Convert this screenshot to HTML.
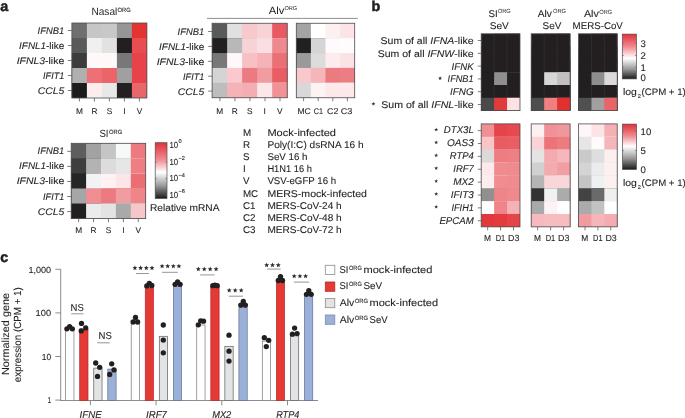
<!DOCTYPE html>
<html><head><meta charset="utf-8"><style>
html,body{margin:0;padding:0;background:#fff;}
svg{display:block;will-change:transform;text-rendering:geometricPrecision;}
text{stroke:#231f20;stroke-width:0.1px;font-family:"Liberation Sans", sans-serif;fill:#231f20;}
</style></head><body>
<svg width="685" height="418" viewBox="0 0 685 418">
<rect width="685" height="418" fill="#fff"/>
<text x="0.30" y="10.80" font-size="14.3" font-weight="bold" style="stroke-width:0.5px">a</text>
<rect x="71.90" y="23.00" width="75.00" height="75.00" fill="#6e706f"/>
<rect x="86.90" y="23.00" width="60.00" height="75.00" fill="#c6c6c6"/>
<rect x="101.90" y="23.00" width="45.00" height="75.00" fill="#c8c8c8"/>
<rect x="116.90" y="23.00" width="30.00" height="75.00" fill="#969696"/>
<rect x="131.90" y="23.00" width="15.00" height="75.00" fill="#e33432"/>
<rect x="71.90" y="38.00" width="75.00" height="60.00" fill="#5a5a5a"/>
<rect x="86.90" y="38.00" width="60.00" height="60.00" fill="#f0f0f0"/>
<rect x="101.90" y="38.00" width="45.00" height="60.00" fill="#e2e2e2"/>
<rect x="116.90" y="38.00" width="30.00" height="60.00" fill="#231f20"/>
<rect x="131.90" y="38.00" width="15.00" height="60.00" fill="#e84d50"/>
<rect x="71.90" y="53.00" width="75.00" height="45.00" fill="#3c3c3c"/>
<rect x="86.90" y="53.00" width="60.00" height="45.00" fill="#fff8f8"/>
<rect x="101.90" y="53.00" width="45.00" height="45.00" fill="#fff8f8"/>
<rect x="116.90" y="53.00" width="30.00" height="45.00" fill="#787878"/>
<rect x="131.90" y="53.00" width="15.00" height="45.00" fill="#e8434a"/>
<rect x="71.90" y="68.00" width="75.00" height="30.00" fill="#b0b0b0"/>
<rect x="86.90" y="68.00" width="60.00" height="30.00" fill="#ec7075"/>
<rect x="101.90" y="68.00" width="45.00" height="30.00" fill="#ea6468"/>
<rect x="116.90" y="68.00" width="30.00" height="30.00" fill="#a0a0a0"/>
<rect x="131.90" y="68.00" width="15.00" height="30.00" fill="#e8434a"/>
<rect x="71.90" y="83.00" width="75.00" height="15.00" fill="#1c1c1c"/>
<rect x="86.90" y="83.00" width="60.00" height="15.00" fill="#fdeeee"/>
<rect x="101.90" y="83.00" width="45.00" height="15.00" fill="#e8e8e8"/>
<rect x="116.90" y="83.00" width="30.00" height="15.00" fill="#242021"/>
<rect x="131.90" y="83.00" width="15.00" height="15.00" fill="#e8676a"/>
<rect x="71.90" y="23.00" width="75.00" height="75.00" fill="none" stroke="#4d4d4f" stroke-width="0.8"/>
<line x1="67.90" y1="30.50" x2="71.90" y2="30.50" stroke="#5a5b5e" stroke-width="0.8"/>
<line x1="67.90" y1="45.50" x2="71.90" y2="45.50" stroke="#5a5b5e" stroke-width="0.8"/>
<line x1="67.90" y1="60.50" x2="71.90" y2="60.50" stroke="#5a5b5e" stroke-width="0.8"/>
<line x1="67.90" y1="75.50" x2="71.90" y2="75.50" stroke="#5a5b5e" stroke-width="0.8"/>
<line x1="67.90" y1="90.50" x2="71.90" y2="90.50" stroke="#5a5b5e" stroke-width="0.8"/>
<line x1="79.40" y1="98.00" x2="79.40" y2="101.50" stroke="#5a5b5e" stroke-width="0.8"/>
<line x1="94.40" y1="98.00" x2="94.40" y2="101.50" stroke="#5a5b5e" stroke-width="0.8"/>
<line x1="109.40" y1="98.00" x2="109.40" y2="101.50" stroke="#5a5b5e" stroke-width="0.8"/>
<line x1="124.40" y1="98.00" x2="124.40" y2="101.50" stroke="#5a5b5e" stroke-width="0.8"/>
<line x1="139.40" y1="98.00" x2="139.40" y2="101.50" stroke="#5a5b5e" stroke-width="0.8"/>
<text x="37.60" y="34.00" font-size="9.6" textLength="26.60" lengthAdjust="spacingAndGlyphs"><tspan font-style="italic">IFNB1</tspan></text>
<text x="19.10" y="49.00" font-size="9.6" textLength="45.10" lengthAdjust="spacingAndGlyphs"><tspan font-style="italic">IFNL1</tspan>-like</text>
<text x="16.70" y="64.00" font-size="9.6" textLength="47.50" lengthAdjust="spacingAndGlyphs"><tspan font-style="italic">IFNL3</tspan>-like</text>
<text x="43.10" y="79.00" font-size="9.6" textLength="21.10" lengthAdjust="spacingAndGlyphs"><tspan font-style="italic">IFIT1</tspan></text>
<text x="37.80" y="94.00" font-size="9.6" textLength="26.40" lengthAdjust="spacingAndGlyphs"><tspan font-style="italic">CCL5</tspan></text>
<text x="79.40" y="114.00" font-size="8.3" text-anchor="middle">M</text>
<text x="94.40" y="114.00" font-size="8.3" text-anchor="middle">R</text>
<text x="109.40" y="114.00" font-size="8.3" text-anchor="middle">S</text>
<text x="124.40" y="114.00" font-size="8.3" text-anchor="middle">I</text>
<text x="139.40" y="114.00" font-size="8.3" text-anchor="middle">V</text>
<text x="91.40" y="14.60" font-size="10.5" textLength="25.90" lengthAdjust="spacingAndGlyphs" style="stroke-width:0">Nasal</text>
<text x="117.50" y="11.50" font-size="6.2" textLength="13.20" lengthAdjust="spacingAndGlyphs" style="stroke-width:0.1px">ORG</text>
<rect x="212.10" y="23.25" width="75.10" height="74.50" fill="#595b5a"/>
<rect x="227.12" y="23.25" width="60.08" height="74.50" fill="#dfe0df"/>
<rect x="242.14" y="23.25" width="45.06" height="74.50" fill="#f7c8cc"/>
<rect x="257.16" y="23.25" width="30.04" height="74.50" fill="#f8d3d6"/>
<rect x="272.18" y="23.25" width="15.02" height="74.50" fill="#e85a62"/>
<rect x="212.10" y="38.15" width="75.10" height="59.60" fill="#231f20"/>
<rect x="227.12" y="38.15" width="60.08" height="59.60" fill="#b8b8b8"/>
<rect x="242.14" y="38.15" width="45.06" height="59.60" fill="#f7d3d8"/>
<rect x="257.16" y="38.15" width="30.04" height="59.60" fill="#f9dfe2"/>
<rect x="272.18" y="38.15" width="15.02" height="59.60" fill="#ee8a8f"/>
<rect x="212.10" y="53.05" width="75.10" height="44.70" fill="#787878"/>
<rect x="227.12" y="53.05" width="60.08" height="44.70" fill="#fff8f9"/>
<rect x="242.14" y="53.05" width="45.06" height="44.70" fill="#f6c0c4"/>
<rect x="257.16" y="53.05" width="30.04" height="44.70" fill="#f5b3b8"/>
<rect x="272.18" y="53.05" width="15.02" height="44.70" fill="#ea7075"/>
<rect x="212.10" y="67.95" width="75.10" height="29.80" fill="#d4d4d4"/>
<rect x="227.12" y="67.95" width="60.08" height="29.80" fill="#f9c9cd"/>
<rect x="242.14" y="67.95" width="45.06" height="29.80" fill="#ec7a80"/>
<rect x="257.16" y="67.95" width="30.04" height="29.80" fill="#f19ca1"/>
<rect x="272.18" y="67.95" width="15.02" height="29.80" fill="#e95d64"/>
<rect x="212.10" y="82.85" width="75.10" height="14.90" fill="#bdbdbd"/>
<rect x="227.12" y="82.85" width="60.08" height="14.90" fill="#f5b3b7"/>
<rect x="242.14" y="82.85" width="45.06" height="14.90" fill="#f4aeb3"/>
<rect x="257.16" y="82.85" width="30.04" height="14.90" fill="#fbe6e8"/>
<rect x="272.18" y="82.85" width="15.02" height="14.90" fill="#f09297"/>
<rect x="212.10" y="23.25" width="75.10" height="74.50" fill="none" stroke="#4d4d4f" stroke-width="0.8"/>
<line x1="208.10" y1="31.50" x2="212.10" y2="31.50" stroke="#5a5b5e" stroke-width="0.8"/>
<line x1="208.10" y1="46.40" x2="212.10" y2="46.40" stroke="#5a5b5e" stroke-width="0.8"/>
<line x1="208.10" y1="61.30" x2="212.10" y2="61.30" stroke="#5a5b5e" stroke-width="0.8"/>
<line x1="208.10" y1="76.20" x2="212.10" y2="76.20" stroke="#5a5b5e" stroke-width="0.8"/>
<line x1="208.10" y1="91.10" x2="212.10" y2="91.10" stroke="#5a5b5e" stroke-width="0.8"/>
<line x1="219.91" y1="97.75" x2="219.91" y2="101.25" stroke="#5a5b5e" stroke-width="0.8"/>
<line x1="234.93" y1="97.75" x2="234.93" y2="101.25" stroke="#5a5b5e" stroke-width="0.8"/>
<line x1="249.95" y1="97.75" x2="249.95" y2="101.25" stroke="#5a5b5e" stroke-width="0.8"/>
<line x1="264.97" y1="97.75" x2="264.97" y2="101.25" stroke="#5a5b5e" stroke-width="0.8"/>
<line x1="279.99" y1="97.75" x2="279.99" y2="101.25" stroke="#5a5b5e" stroke-width="0.8"/>
<rect x="296.30" y="23.25" width="58.40" height="74.50" fill="#a3a3a3"/>
<rect x="310.90" y="23.25" width="43.80" height="74.50" fill="#ffffff"/>
<rect x="325.50" y="23.25" width="29.20" height="74.50" fill="#fdf0f1"/>
<rect x="340.10" y="23.25" width="14.60" height="74.50" fill="#fce4e6"/>
<rect x="296.30" y="38.15" width="58.40" height="59.60" fill="#231f20"/>
<rect x="310.90" y="38.15" width="43.80" height="59.60" fill="#d5d5d5"/>
<rect x="325.50" y="38.15" width="29.20" height="59.60" fill="#fffafb"/>
<rect x="340.10" y="38.15" width="14.60" height="59.60" fill="#fffcfc"/>
<rect x="296.30" y="53.05" width="58.40" height="44.70" fill="#9a9a9a"/>
<rect x="310.90" y="53.05" width="43.80" height="44.70" fill="#dcdcdc"/>
<rect x="325.50" y="53.05" width="29.20" height="44.70" fill="#fdeced"/>
<rect x="340.10" y="53.05" width="14.60" height="44.70" fill="#fbe2e4"/>
<rect x="296.30" y="67.95" width="58.40" height="29.80" fill="#f8c8cc"/>
<rect x="310.90" y="67.95" width="43.80" height="29.80" fill="#f5b5b9"/>
<rect x="325.50" y="67.95" width="29.20" height="29.80" fill="#ec7b80"/>
<rect x="340.10" y="67.95" width="14.60" height="29.80" fill="#ec7e83"/>
<rect x="296.30" y="82.85" width="58.40" height="14.90" fill="#d8d8d8"/>
<rect x="310.90" y="82.85" width="43.80" height="14.90" fill="#fef3f4"/>
<rect x="325.50" y="82.85" width="29.20" height="14.90" fill="#fde8ea"/>
<rect x="340.10" y="82.85" width="14.60" height="14.90" fill="#fde8ea"/>
<rect x="296.30" y="23.25" width="58.40" height="74.50" fill="none" stroke="#4d4d4f" stroke-width="0.8"/>
<line x1="303.60" y1="97.75" x2="303.60" y2="101.25" stroke="#5a5b5e" stroke-width="0.8"/>
<line x1="318.20" y1="97.75" x2="318.20" y2="101.25" stroke="#5a5b5e" stroke-width="0.8"/>
<line x1="332.80" y1="97.75" x2="332.80" y2="101.25" stroke="#5a5b5e" stroke-width="0.8"/>
<line x1="347.40" y1="97.75" x2="347.40" y2="101.25" stroke="#5a5b5e" stroke-width="0.8"/>
<text x="177.60" y="35.00" font-size="9.6" textLength="26.60" lengthAdjust="spacingAndGlyphs"><tspan font-style="italic">IFNB1</tspan></text>
<text x="159.10" y="49.90" font-size="9.6" textLength="45.10" lengthAdjust="spacingAndGlyphs"><tspan font-style="italic">IFNL1</tspan>-like</text>
<text x="156.70" y="64.80" font-size="9.6" textLength="47.50" lengthAdjust="spacingAndGlyphs"><tspan font-style="italic">IFNL3</tspan>-like</text>
<text x="183.10" y="79.70" font-size="9.6" textLength="21.10" lengthAdjust="spacingAndGlyphs"><tspan font-style="italic">IFIT1</tspan></text>
<text x="177.80" y="94.60" font-size="9.6" textLength="26.40" lengthAdjust="spacingAndGlyphs"><tspan font-style="italic">CCL5</tspan></text>
<text x="219.61" y="114.00" font-size="8.3" text-anchor="middle">M</text>
<text x="234.63" y="114.00" font-size="8.3" text-anchor="middle">R</text>
<text x="249.65" y="114.00" font-size="8.3" text-anchor="middle">S</text>
<text x="264.67" y="114.00" font-size="8.3" text-anchor="middle">I</text>
<text x="279.69" y="114.00" font-size="8.3" text-anchor="middle">V</text>
<text x="297.40" y="114.20" font-size="8.3" textLength="13.30" lengthAdjust="spacingAndGlyphs">MC</text>
<text x="313.70" y="114.20" font-size="8.3" textLength="9.30" lengthAdjust="spacingAndGlyphs">C1</text>
<text x="327.00" y="114.20" font-size="8.3" textLength="11.30" lengthAdjust="spacingAndGlyphs">C2</text>
<text x="340.80" y="114.20" font-size="8.3" textLength="11.60" lengthAdjust="spacingAndGlyphs">C3</text>
<line x1="207.00" y1="18.40" x2="357.70" y2="18.40" stroke="#808285" stroke-width="0.9"/>
<text x="268.80" y="13.90" font-size="10.5" textLength="15.60" lengthAdjust="spacingAndGlyphs" style="stroke-width:0">Alv</text>
<text x="284.40" y="10.00" font-size="5.6" textLength="12.80" lengthAdjust="spacingAndGlyphs" style="stroke-width:0">ORG</text>
<rect x="71.20" y="143.30" width="74.50" height="75.30" fill="#5e5e5e"/>
<rect x="86.10" y="143.30" width="59.60" height="75.30" fill="#a2a2a2"/>
<rect x="101.00" y="143.30" width="44.70" height="75.30" fill="#c5c5c5"/>
<rect x="115.90" y="143.30" width="29.80" height="75.30" fill="#f7f9f8"/>
<rect x="130.80" y="143.30" width="14.90" height="75.30" fill="#ec7a7f"/>
<rect x="71.20" y="158.36" width="74.50" height="60.24" fill="#3e3e3e"/>
<rect x="86.10" y="158.36" width="59.60" height="60.24" fill="#b3b3b3"/>
<rect x="101.00" y="158.36" width="44.70" height="60.24" fill="#dcdcdc"/>
<rect x="115.90" y="158.36" width="29.80" height="60.24" fill="#e6e6e6"/>
<rect x="130.80" y="158.36" width="14.90" height="60.24" fill="#ee7e83"/>
<rect x="71.20" y="173.42" width="74.50" height="45.18" fill="#252525"/>
<rect x="86.10" y="173.42" width="59.60" height="45.18" fill="#f0f2f4"/>
<rect x="101.00" y="173.42" width="44.70" height="45.18" fill="#fef2f3"/>
<rect x="115.90" y="173.42" width="29.80" height="45.18" fill="#fce6e8"/>
<rect x="130.80" y="173.42" width="14.90" height="45.18" fill="#ea6e74"/>
<rect x="71.20" y="188.48" width="74.50" height="30.12" fill="#a6a6a6"/>
<rect x="86.10" y="188.48" width="59.60" height="30.12" fill="#f08e93"/>
<rect x="101.00" y="188.48" width="44.70" height="30.12" fill="#ec7a80"/>
<rect x="115.90" y="188.48" width="29.80" height="30.12" fill="#f19ca1"/>
<rect x="130.80" y="188.48" width="14.90" height="30.12" fill="#ef8489"/>
<rect x="71.20" y="203.54" width="74.50" height="15.06" fill="#231f20"/>
<rect x="86.10" y="203.54" width="59.60" height="15.06" fill="#ebebeb"/>
<rect x="101.00" y="203.54" width="44.70" height="15.06" fill="#e3e3e3"/>
<rect x="115.90" y="203.54" width="29.80" height="15.06" fill="#a9a9a9"/>
<rect x="130.80" y="203.54" width="14.90" height="15.06" fill="#f7c6ca"/>
<rect x="71.20" y="143.30" width="74.50" height="75.30" fill="none" stroke="#4d4d4f" stroke-width="0.8"/>
<line x1="67.20" y1="151.33" x2="71.20" y2="151.33" stroke="#5a5b5e" stroke-width="0.8"/>
<line x1="67.20" y1="166.39" x2="71.20" y2="166.39" stroke="#5a5b5e" stroke-width="0.8"/>
<line x1="67.20" y1="181.45" x2="71.20" y2="181.45" stroke="#5a5b5e" stroke-width="0.8"/>
<line x1="67.20" y1="196.51" x2="71.20" y2="196.51" stroke="#5a5b5e" stroke-width="0.8"/>
<line x1="67.20" y1="211.57" x2="71.20" y2="211.57" stroke="#5a5b5e" stroke-width="0.8"/>
<line x1="78.65" y1="218.60" x2="78.65" y2="222.10" stroke="#5a5b5e" stroke-width="0.8"/>
<line x1="93.55" y1="218.60" x2="93.55" y2="222.10" stroke="#5a5b5e" stroke-width="0.8"/>
<line x1="108.45" y1="218.60" x2="108.45" y2="222.10" stroke="#5a5b5e" stroke-width="0.8"/>
<line x1="123.35" y1="218.60" x2="123.35" y2="222.10" stroke="#5a5b5e" stroke-width="0.8"/>
<line x1="138.25" y1="218.60" x2="138.25" y2="222.10" stroke="#5a5b5e" stroke-width="0.8"/>
<text x="37.60" y="154.33" font-size="9.6" textLength="26.60" lengthAdjust="spacingAndGlyphs"><tspan font-style="italic">IFNB1</tspan></text>
<text x="19.10" y="169.39" font-size="9.6" textLength="45.10" lengthAdjust="spacingAndGlyphs"><tspan font-style="italic">IFNL1</tspan>-like</text>
<text x="16.70" y="184.45" font-size="9.6" textLength="47.50" lengthAdjust="spacingAndGlyphs"><tspan font-style="italic">IFNL3</tspan>-like</text>
<text x="43.10" y="199.51" font-size="9.6" textLength="21.10" lengthAdjust="spacingAndGlyphs"><tspan font-style="italic">IFIT1</tspan></text>
<text x="37.80" y="214.57" font-size="9.6" textLength="26.40" lengthAdjust="spacingAndGlyphs"><tspan font-style="italic">CCL5</tspan></text>
<text x="78.65" y="233.20" font-size="8.3" text-anchor="middle">M</text>
<text x="93.55" y="233.20" font-size="8.3" text-anchor="middle">R</text>
<text x="108.45" y="233.20" font-size="8.3" text-anchor="middle">S</text>
<text x="123.35" y="233.20" font-size="8.3" text-anchor="middle">I</text>
<text x="138.25" y="233.20" font-size="8.3" text-anchor="middle">V</text>
<text x="99.40" y="136.80" font-size="10.5" textLength="9.10" lengthAdjust="spacingAndGlyphs" style="stroke-width:0">SI</text>
<text x="109.00" y="133.60" font-size="6.2" textLength="13.30" lengthAdjust="spacingAndGlyphs" style="stroke-width:0.1px">ORG</text>
<defs><linearGradient id="ga" x1="0" y1="0" x2="0" y2="1"><stop offset="0" stop-color="#e2313a"/><stop offset="0.3" stop-color="#f08a90"/><stop offset="0.53" stop-color="#ffffff"/><stop offset="0.77" stop-color="#9a9a9a"/><stop offset="1" stop-color="#1a1a1a"/></linearGradient><linearGradient id="gb" x1="0" y1="0" x2="0" y2="1"><stop offset="0" stop-color="#e2313a"/><stop offset="0.28" stop-color="#f08a90"/><stop offset="0.54" stop-color="#ffffff"/><stop offset="0.78" stop-color="#9a9a9a"/><stop offset="1" stop-color="#1a1a1a"/></linearGradient><linearGradient id="gc" x1="0" y1="0" x2="0" y2="1"><stop offset="0" stop-color="#e2313a"/><stop offset="0.26" stop-color="#f08a90"/><stop offset="0.49" stop-color="#ffffff"/><stop offset="0.75" stop-color="#9a9a9a"/><stop offset="1" stop-color="#1a1a1a"/></linearGradient></defs>
<rect x="155.20" y="142.70" width="11.80" height="55.80" fill="url(#ga)" stroke="#4d4d4f" stroke-width="0.7"/>
<line x1="155.20" y1="145.50" x2="156.70" y2="145.50" stroke="#5a5b5e" stroke-width="0.6"/>
<line x1="165.50" y1="145.50" x2="167.00" y2="145.50" stroke="#5a5b5e" stroke-width="0.6"/>
<line x1="155.20" y1="162.20" x2="156.70" y2="162.20" stroke="#5a5b5e" stroke-width="0.6"/>
<line x1="165.50" y1="162.20" x2="167.00" y2="162.20" stroke="#5a5b5e" stroke-width="0.6"/>
<line x1="155.20" y1="178.60" x2="156.70" y2="178.60" stroke="#5a5b5e" stroke-width="0.6"/>
<line x1="165.50" y1="178.60" x2="167.00" y2="178.60" stroke="#5a5b5e" stroke-width="0.6"/>
<line x1="155.20" y1="195.20" x2="156.70" y2="195.20" stroke="#5a5b5e" stroke-width="0.6"/>
<line x1="165.50" y1="195.20" x2="167.00" y2="195.20" stroke="#5a5b5e" stroke-width="0.6"/>
<text x="169.40" y="147.80" font-size="8.8" textLength="8.70" lengthAdjust="spacingAndGlyphs">10</text>
<text x="178.60" y="143.20" font-size="5.6">0</text>
<text x="169.40" y="164.50" font-size="8.8" textLength="8.70" lengthAdjust="spacingAndGlyphs">10</text>
<text x="178.60" y="159.90" font-size="5.6">−2</text>
<text x="169.40" y="181.20" font-size="8.8" textLength="8.70" lengthAdjust="spacingAndGlyphs">10</text>
<text x="178.60" y="176.60" font-size="5.6">−4</text>
<text x="169.40" y="197.90" font-size="8.8" textLength="8.70" lengthAdjust="spacingAndGlyphs">10</text>
<text x="178.60" y="193.30" font-size="5.6">−6</text>
<text x="150.00" y="210.80" font-size="9.8" textLength="69.50" lengthAdjust="spacingAndGlyphs">Relative mRNA</text>
<text x="242.90" y="135.50" font-size="9.8">M</text>
<text x="267.40" y="135.50" font-size="9.8" textLength="68.60" lengthAdjust="spacingAndGlyphs">Mock-infected</text>
<text x="242.90" y="147.70" font-size="9.8">R</text>
<text x="267.40" y="147.70" font-size="9.8" textLength="96.20" lengthAdjust="spacingAndGlyphs">Poly(I:C) dsRNA 16 h</text>
<text x="242.90" y="159.90" font-size="9.8">S</text>
<text x="267.40" y="159.90" font-size="9.8" textLength="40.10" lengthAdjust="spacingAndGlyphs">SeV 16 h</text>
<text x="242.90" y="172.10" font-size="9.8">I</text>
<text x="267.40" y="172.10" font-size="9.8" textLength="44.50" lengthAdjust="spacingAndGlyphs">H1N1 16 h</text>
<text x="242.90" y="184.30" font-size="9.8">V</text>
<text x="267.40" y="184.30" font-size="9.8" textLength="68.80" lengthAdjust="spacingAndGlyphs">VSV-eGFP 16 h</text>
<text x="242.90" y="196.50" font-size="9.8">MC</text>
<text x="267.40" y="196.50" font-size="9.8" textLength="99.60" lengthAdjust="spacingAndGlyphs">MERS-mock-infected</text>
<text x="242.90" y="208.70" font-size="9.8">C1</text>
<text x="267.40" y="208.70" font-size="9.8" textLength="74.30" lengthAdjust="spacingAndGlyphs">MERS-CoV-24 h</text>
<text x="242.90" y="220.90" font-size="9.8">C2</text>
<text x="267.40" y="220.90" font-size="9.8" textLength="74.30" lengthAdjust="spacingAndGlyphs">MERS-CoV-48 h</text>
<text x="242.90" y="233.10" font-size="9.8">C3</text>
<text x="267.40" y="233.10" font-size="9.8" textLength="74.30" lengthAdjust="spacingAndGlyphs">MERS-CoV-72 h</text>
<text x="371.60" y="10.60" font-size="14.3" font-weight="bold" style="stroke-width:0.5px">b</text>
<rect x="481.20" y="33.80" width="38.79" height="76.80" fill="#231f20"/>
<rect x="494.13" y="33.80" width="25.86" height="76.80" fill="#231f20"/>
<rect x="507.06" y="33.80" width="12.93" height="76.80" fill="#231f20"/>
<rect x="481.20" y="46.60" width="38.79" height="64.00" fill="#231f20"/>
<rect x="494.13" y="46.60" width="25.86" height="64.00" fill="#231f20"/>
<rect x="507.06" y="46.60" width="12.93" height="64.00" fill="#231f20"/>
<rect x="481.20" y="59.40" width="38.79" height="51.20" fill="#231f20"/>
<rect x="494.13" y="59.40" width="25.86" height="51.20" fill="#231f20"/>
<rect x="507.06" y="59.40" width="12.93" height="51.20" fill="#231f20"/>
<rect x="481.20" y="72.20" width="38.79" height="38.40" fill="#231f20"/>
<rect x="494.13" y="72.20" width="25.86" height="38.40" fill="#8f8f8f"/>
<rect x="507.06" y="72.20" width="12.93" height="38.40" fill="#231f20"/>
<rect x="481.20" y="85.00" width="38.79" height="25.60" fill="#231f20"/>
<rect x="494.13" y="85.00" width="25.86" height="25.60" fill="#231f20"/>
<rect x="507.06" y="85.00" width="12.93" height="25.60" fill="#231f20"/>
<rect x="481.20" y="97.80" width="38.79" height="12.80" fill="#4a4a4a"/>
<rect x="494.13" y="97.80" width="25.86" height="12.80" fill="#e23b3b"/>
<rect x="507.06" y="97.80" width="12.93" height="12.80" fill="#fbe3e3"/>
<line x1="494.13" y1="33.80" x2="494.13" y2="46.60" stroke="#3b3738" stroke-width="0.6"/>
<line x1="507.06" y1="33.80" x2="507.06" y2="46.60" stroke="#3b3738" stroke-width="0.6"/>
<line x1="494.13" y1="46.60" x2="494.13" y2="59.40" stroke="#3b3738" stroke-width="0.6"/>
<line x1="507.06" y1="46.60" x2="507.06" y2="59.40" stroke="#3b3738" stroke-width="0.6"/>
<line x1="494.13" y1="59.40" x2="494.13" y2="72.20" stroke="#3b3738" stroke-width="0.6"/>
<line x1="507.06" y1="59.40" x2="507.06" y2="72.20" stroke="#3b3738" stroke-width="0.6"/>
<line x1="494.13" y1="85.00" x2="494.13" y2="97.80" stroke="#3b3738" stroke-width="0.6"/>
<line x1="507.06" y1="85.00" x2="507.06" y2="97.80" stroke="#3b3738" stroke-width="0.6"/>
<rect x="481.20" y="33.80" width="38.79" height="76.80" fill="none" stroke="#4d4d4f" stroke-width="0.8"/>
<line x1="477.80" y1="40.50" x2="481.20" y2="40.50" stroke="#5a5b5e" stroke-width="0.8"/>
<line x1="477.80" y1="53.30" x2="481.20" y2="53.30" stroke="#5a5b5e" stroke-width="0.8"/>
<line x1="477.80" y1="66.10" x2="481.20" y2="66.10" stroke="#5a5b5e" stroke-width="0.8"/>
<line x1="477.80" y1="78.90" x2="481.20" y2="78.90" stroke="#5a5b5e" stroke-width="0.8"/>
<line x1="477.80" y1="91.70" x2="481.20" y2="91.70" stroke="#5a5b5e" stroke-width="0.8"/>
<line x1="477.80" y1="104.50" x2="481.20" y2="104.50" stroke="#5a5b5e" stroke-width="0.8"/>
<rect x="481.20" y="123.90" width="38.79" height="102.96" fill="#f09095"/>
<rect x="494.13" y="123.90" width="25.86" height="102.96" fill="#e5444a"/>
<rect x="507.06" y="123.90" width="12.93" height="102.96" fill="#e6494f"/>
<rect x="481.20" y="136.77" width="38.79" height="90.09" fill="#f8c5c9"/>
<rect x="494.13" y="136.77" width="25.86" height="90.09" fill="#e95c62"/>
<rect x="507.06" y="136.77" width="12.93" height="90.09" fill="#e95e64"/>
<rect x="481.20" y="149.64" width="38.79" height="77.22" fill="#dadada"/>
<rect x="494.13" y="149.64" width="25.86" height="77.22" fill="#ee7c81"/>
<rect x="507.06" y="149.64" width="12.93" height="77.22" fill="#ee7f84"/>
<rect x="481.20" y="162.51" width="38.79" height="64.35" fill="#fde9eb"/>
<rect x="494.13" y="162.51" width="25.86" height="64.35" fill="#f08b90"/>
<rect x="507.06" y="162.51" width="12.93" height="64.35" fill="#ef8a8f"/>
<rect x="481.20" y="175.38" width="38.79" height="51.48" fill="#fdedef"/>
<rect x="494.13" y="175.38" width="25.86" height="51.48" fill="#f08d92"/>
<rect x="507.06" y="175.38" width="12.93" height="51.48" fill="#f08b90"/>
<rect x="481.20" y="188.25" width="38.79" height="38.61" fill="#909090"/>
<rect x="494.13" y="188.25" width="25.86" height="38.61" fill="#ef858a"/>
<rect x="507.06" y="188.25" width="12.93" height="38.61" fill="#f0898e"/>
<rect x="481.20" y="201.12" width="38.79" height="25.74" fill="#ffffff"/>
<rect x="494.13" y="201.12" width="25.86" height="25.74" fill="#ef858a"/>
<rect x="507.06" y="201.12" width="12.93" height="25.74" fill="#f5b2b6"/>
<rect x="481.20" y="213.99" width="38.79" height="12.87" fill="#e2383b"/>
<rect x="494.13" y="213.99" width="25.86" height="12.87" fill="#e33b3e"/>
<rect x="507.06" y="213.99" width="12.93" height="12.87" fill="#e54549"/>
<rect x="481.20" y="123.90" width="38.79" height="102.96" fill="none" stroke="#4d4d4f" stroke-width="0.8"/>
<line x1="477.80" y1="130.64" x2="481.20" y2="130.64" stroke="#5a5b5e" stroke-width="0.8"/>
<line x1="477.80" y1="143.51" x2="481.20" y2="143.51" stroke="#5a5b5e" stroke-width="0.8"/>
<line x1="477.80" y1="156.38" x2="481.20" y2="156.38" stroke="#5a5b5e" stroke-width="0.8"/>
<line x1="477.80" y1="169.25" x2="481.20" y2="169.25" stroke="#5a5b5e" stroke-width="0.8"/>
<line x1="477.80" y1="182.12" x2="481.20" y2="182.12" stroke="#5a5b5e" stroke-width="0.8"/>
<line x1="477.80" y1="194.99" x2="481.20" y2="194.99" stroke="#5a5b5e" stroke-width="0.8"/>
<line x1="477.80" y1="207.86" x2="481.20" y2="207.86" stroke="#5a5b5e" stroke-width="0.8"/>
<line x1="477.80" y1="220.73" x2="481.20" y2="220.73" stroke="#5a5b5e" stroke-width="0.8"/>
<line x1="487.66" y1="226.86" x2="487.66" y2="230.36" stroke="#5a5b5e" stroke-width="0.8"/>
<line x1="500.59" y1="226.86" x2="500.59" y2="230.36" stroke="#5a5b5e" stroke-width="0.8"/>
<line x1="513.52" y1="226.86" x2="513.52" y2="230.36" stroke="#5a5b5e" stroke-width="0.8"/>
<text x="483.90" y="240.60" font-size="8.8" textLength="7.00" lengthAdjust="spacingAndGlyphs">M</text>
<text x="495.70" y="240.60" font-size="8.8" textLength="9.50" lengthAdjust="spacingAndGlyphs">D1</text>
<text x="508.00" y="240.60" font-size="8.8" textLength="11.30" lengthAdjust="spacingAndGlyphs">D3</text>
<rect x="531.20" y="33.80" width="38.91" height="76.80" fill="#231f20"/>
<rect x="544.17" y="33.80" width="25.94" height="76.80" fill="#231f20"/>
<rect x="557.14" y="33.80" width="12.97" height="76.80" fill="#231f20"/>
<rect x="531.20" y="46.60" width="38.91" height="64.00" fill="#231f20"/>
<rect x="544.17" y="46.60" width="25.94" height="64.00" fill="#231f20"/>
<rect x="557.14" y="46.60" width="12.97" height="64.00" fill="#231f20"/>
<rect x="531.20" y="59.40" width="38.91" height="51.20" fill="#231f20"/>
<rect x="544.17" y="59.40" width="25.94" height="51.20" fill="#231f20"/>
<rect x="557.14" y="59.40" width="12.97" height="51.20" fill="#231f20"/>
<rect x="531.20" y="72.20" width="38.91" height="38.40" fill="#231f20"/>
<rect x="544.17" y="72.20" width="25.94" height="38.40" fill="#d6d6d6"/>
<rect x="557.14" y="72.20" width="12.97" height="38.40" fill="#c0c0c0"/>
<rect x="531.20" y="85.00" width="38.91" height="25.60" fill="#231f20"/>
<rect x="544.17" y="85.00" width="25.94" height="25.60" fill="#231f20"/>
<rect x="557.14" y="85.00" width="12.97" height="25.60" fill="#231f20"/>
<rect x="531.20" y="97.80" width="38.91" height="12.80" fill="#4d4d4d"/>
<rect x="544.17" y="97.80" width="25.94" height="12.80" fill="#f08080"/>
<rect x="557.14" y="97.80" width="12.97" height="12.80" fill="#e2302e"/>
<line x1="544.17" y1="33.80" x2="544.17" y2="46.60" stroke="#3b3738" stroke-width="0.6"/>
<line x1="557.14" y1="33.80" x2="557.14" y2="46.60" stroke="#3b3738" stroke-width="0.6"/>
<line x1="544.17" y1="46.60" x2="544.17" y2="59.40" stroke="#3b3738" stroke-width="0.6"/>
<line x1="557.14" y1="46.60" x2="557.14" y2="59.40" stroke="#3b3738" stroke-width="0.6"/>
<line x1="544.17" y1="59.40" x2="544.17" y2="72.20" stroke="#3b3738" stroke-width="0.6"/>
<line x1="557.14" y1="59.40" x2="557.14" y2="72.20" stroke="#3b3738" stroke-width="0.6"/>
<line x1="544.17" y1="85.00" x2="544.17" y2="97.80" stroke="#3b3738" stroke-width="0.6"/>
<line x1="557.14" y1="85.00" x2="557.14" y2="97.80" stroke="#3b3738" stroke-width="0.6"/>
<rect x="531.20" y="33.80" width="38.91" height="76.80" fill="none" stroke="#4d4d4f" stroke-width="0.8"/>
<rect x="531.20" y="123.90" width="38.91" height="102.96" fill="#fdf0f1"/>
<rect x="544.17" y="123.90" width="25.94" height="102.96" fill="#f09297"/>
<rect x="557.14" y="123.90" width="12.97" height="102.96" fill="#f0979c"/>
<rect x="531.20" y="136.77" width="38.91" height="90.09" fill="#f9d3d6"/>
<rect x="544.17" y="136.77" width="25.94" height="90.09" fill="#ec7479"/>
<rect x="557.14" y="136.77" width="12.97" height="90.09" fill="#ed7c81"/>
<rect x="531.20" y="149.64" width="38.91" height="77.22" fill="#e4e4e4"/>
<rect x="544.17" y="149.64" width="25.94" height="77.22" fill="#f4aaae"/>
<rect x="557.14" y="149.64" width="12.97" height="77.22" fill="#f5b7bb"/>
<rect x="531.20" y="162.51" width="38.91" height="64.35" fill="#d0d0d0"/>
<rect x="544.17" y="162.51" width="25.94" height="64.35" fill="#f4abaf"/>
<rect x="557.14" y="162.51" width="12.97" height="64.35" fill="#f29ea3"/>
<rect x="531.20" y="175.38" width="38.91" height="51.48" fill="#b5b5b5"/>
<rect x="544.17" y="175.38" width="25.94" height="51.48" fill="#f9d6d9"/>
<rect x="557.14" y="175.38" width="12.97" height="51.48" fill="#f9d6d9"/>
<rect x="531.20" y="188.25" width="38.91" height="38.61" fill="#333333"/>
<rect x="544.17" y="188.25" width="25.94" height="38.61" fill="#f1f1f1"/>
<rect x="557.14" y="188.25" width="12.97" height="38.61" fill="#ababab"/>
<rect x="531.20" y="201.12" width="38.91" height="25.74" fill="#a9a9a9"/>
<rect x="544.17" y="201.12" width="25.94" height="25.74" fill="#fef3f4"/>
<rect x="557.14" y="201.12" width="12.97" height="25.74" fill="#ffffff"/>
<rect x="531.20" y="213.99" width="38.91" height="12.87" fill="#f6babe"/>
<rect x="544.17" y="213.99" width="25.94" height="12.87" fill="#f6bcc0"/>
<rect x="557.14" y="213.99" width="12.97" height="12.87" fill="#f6bcc0"/>
<rect x="531.20" y="123.90" width="38.91" height="102.96" fill="none" stroke="#4d4d4f" stroke-width="0.8"/>
<line x1="537.69" y1="226.86" x2="537.69" y2="230.36" stroke="#5a5b5e" stroke-width="0.8"/>
<line x1="550.66" y1="226.86" x2="550.66" y2="230.36" stroke="#5a5b5e" stroke-width="0.8"/>
<line x1="563.62" y1="226.86" x2="563.62" y2="230.36" stroke="#5a5b5e" stroke-width="0.8"/>
<text x="533.90" y="240.60" font-size="8.8" textLength="7.00" lengthAdjust="spacingAndGlyphs">M</text>
<text x="545.70" y="240.60" font-size="8.8" textLength="9.50" lengthAdjust="spacingAndGlyphs">D1</text>
<text x="558.00" y="240.60" font-size="8.8" textLength="11.30" lengthAdjust="spacingAndGlyphs">D3</text>
<rect x="578.60" y="33.80" width="38.61" height="76.80" fill="#231f20"/>
<rect x="591.47" y="33.80" width="25.74" height="76.80" fill="#231f20"/>
<rect x="604.34" y="33.80" width="12.87" height="76.80" fill="#231f20"/>
<rect x="578.60" y="46.60" width="38.61" height="64.00" fill="#231f20"/>
<rect x="591.47" y="46.60" width="25.74" height="64.00" fill="#231f20"/>
<rect x="604.34" y="46.60" width="12.87" height="64.00" fill="#231f20"/>
<rect x="578.60" y="59.40" width="38.61" height="51.20" fill="#231f20"/>
<rect x="591.47" y="59.40" width="25.74" height="51.20" fill="#231f20"/>
<rect x="604.34" y="59.40" width="12.87" height="51.20" fill="#231f20"/>
<rect x="578.60" y="72.20" width="38.61" height="38.40" fill="#231f20"/>
<rect x="591.47" y="72.20" width="25.74" height="38.40" fill="#8e8e8e"/>
<rect x="604.34" y="72.20" width="12.87" height="38.40" fill="#dadada"/>
<rect x="578.60" y="85.00" width="38.61" height="25.60" fill="#231f20"/>
<rect x="591.47" y="85.00" width="25.74" height="25.60" fill="#231f20"/>
<rect x="604.34" y="85.00" width="12.87" height="25.60" fill="#231f20"/>
<rect x="578.60" y="97.80" width="38.61" height="12.80" fill="#505050"/>
<rect x="591.47" y="97.80" width="25.74" height="12.80" fill="#a0a0a0"/>
<rect x="604.34" y="97.80" width="12.87" height="12.80" fill="#e86466"/>
<line x1="591.47" y1="33.80" x2="591.47" y2="46.60" stroke="#3b3738" stroke-width="0.6"/>
<line x1="604.34" y1="33.80" x2="604.34" y2="46.60" stroke="#3b3738" stroke-width="0.6"/>
<line x1="591.47" y1="46.60" x2="591.47" y2="59.40" stroke="#3b3738" stroke-width="0.6"/>
<line x1="604.34" y1="46.60" x2="604.34" y2="59.40" stroke="#3b3738" stroke-width="0.6"/>
<line x1="591.47" y1="59.40" x2="591.47" y2="72.20" stroke="#3b3738" stroke-width="0.6"/>
<line x1="604.34" y1="59.40" x2="604.34" y2="72.20" stroke="#3b3738" stroke-width="0.6"/>
<line x1="591.47" y1="85.00" x2="591.47" y2="97.80" stroke="#3b3738" stroke-width="0.6"/>
<line x1="604.34" y1="85.00" x2="604.34" y2="97.80" stroke="#3b3738" stroke-width="0.6"/>
<rect x="578.60" y="33.80" width="38.61" height="76.80" fill="none" stroke="#4d4d4f" stroke-width="0.8"/>
<rect x="578.60" y="123.90" width="38.61" height="102.96" fill="#fef6f7"/>
<rect x="591.47" y="123.90" width="25.74" height="102.96" fill="#fce3e5"/>
<rect x="604.34" y="123.90" width="12.87" height="102.96" fill="#f5b0b4"/>
<rect x="578.60" y="136.77" width="38.61" height="90.09" fill="#e6e6e6"/>
<rect x="591.47" y="136.77" width="25.74" height="90.09" fill="#fffbfb"/>
<rect x="604.34" y="136.77" width="12.87" height="90.09" fill="#f5b6ba"/>
<rect x="578.60" y="149.64" width="38.61" height="77.22" fill="#cacaca"/>
<rect x="591.47" y="149.64" width="25.74" height="77.22" fill="#dedede"/>
<rect x="604.34" y="149.64" width="12.87" height="77.22" fill="#fdeeef"/>
<rect x="578.60" y="162.51" width="38.61" height="64.35" fill="#d4d4d4"/>
<rect x="591.47" y="162.51" width="25.74" height="64.35" fill="#ececec"/>
<rect x="604.34" y="162.51" width="12.87" height="64.35" fill="#fdf0f1"/>
<rect x="578.60" y="175.38" width="38.61" height="51.48" fill="#c4c4c4"/>
<rect x="591.47" y="175.38" width="25.74" height="51.48" fill="#eff0f2"/>
<rect x="604.34" y="175.38" width="12.87" height="51.48" fill="#fdf0f1"/>
<rect x="578.60" y="188.25" width="38.61" height="38.61" fill="#434343"/>
<rect x="591.47" y="188.25" width="25.74" height="38.61" fill="#6a6a6a"/>
<rect x="604.34" y="188.25" width="12.87" height="38.61" fill="#efefef"/>
<rect x="578.60" y="201.12" width="38.61" height="25.74" fill="#ababab"/>
<rect x="591.47" y="201.12" width="25.74" height="25.74" fill="#c2c2c2"/>
<rect x="604.34" y="201.12" width="12.87" height="25.74" fill="#ffffff"/>
<rect x="578.60" y="213.99" width="38.61" height="12.87" fill="#f29ca1"/>
<rect x="591.47" y="213.99" width="25.74" height="12.87" fill="#f5b6ba"/>
<rect x="604.34" y="213.99" width="12.87" height="12.87" fill="#f4acb0"/>
<rect x="578.60" y="123.90" width="38.61" height="102.96" fill="none" stroke="#4d4d4f" stroke-width="0.8"/>
<line x1="585.03" y1="226.86" x2="585.03" y2="230.36" stroke="#5a5b5e" stroke-width="0.8"/>
<line x1="597.90" y1="226.86" x2="597.90" y2="230.36" stroke="#5a5b5e" stroke-width="0.8"/>
<line x1="610.77" y1="226.86" x2="610.77" y2="230.36" stroke="#5a5b5e" stroke-width="0.8"/>
<text x="581.30" y="240.60" font-size="8.8" textLength="7.00" lengthAdjust="spacingAndGlyphs">M</text>
<text x="593.10" y="240.60" font-size="8.8" textLength="9.50" lengthAdjust="spacingAndGlyphs">D1</text>
<text x="605.40" y="240.60" font-size="8.8" textLength="11.30" lengthAdjust="spacingAndGlyphs">D3</text>
<text x="380.60" y="44.00" font-size="9.8" textLength="93.00" lengthAdjust="spacingAndGlyphs">Sum of all <tspan font-style="italic">IFNA</tspan>-like</text>
<text x="377.70" y="56.80" font-size="9.8" textLength="95.90" lengthAdjust="spacingAndGlyphs">Sum of all <tspan font-style="italic">IFNW</tspan>-like</text>
<text x="451.60" y="69.60" font-size="9.8" textLength="22.00" lengthAdjust="spacingAndGlyphs"><tspan font-style="italic">IFNK</tspan></text>
<text x="447.60" y="82.40" font-size="9.8" textLength="26.00" lengthAdjust="spacingAndGlyphs"><tspan font-style="italic">IFNB1</tspan></text>
<text x="450.00" y="95.20" font-size="9.8" textLength="23.60" lengthAdjust="spacingAndGlyphs"><tspan font-style="italic">IFNG</tspan></text>
<text x="381.30" y="108.00" font-size="9.8" textLength="92.30" lengthAdjust="spacingAndGlyphs">Sum of all <tspan font-style="italic">IFNL</tspan>-like</text>
<text x="443.80" y="133.44" font-size="9.8" textLength="30.00" lengthAdjust="spacingAndGlyphs"><tspan font-style="italic">DTX3L</tspan></text>
<text x="447.00" y="146.31" font-size="9.8" textLength="26.80" lengthAdjust="spacingAndGlyphs"><tspan font-style="italic">OAS3</tspan></text>
<text x="449.80" y="159.17" font-size="9.8" textLength="24.00" lengthAdjust="spacingAndGlyphs"><tspan font-style="italic">RTP4</tspan></text>
<text x="453.30" y="172.04" font-size="9.8" textLength="20.50" lengthAdjust="spacingAndGlyphs"><tspan font-style="italic">IRF7</tspan></text>
<text x="453.20" y="184.91" font-size="9.8" textLength="20.60" lengthAdjust="spacingAndGlyphs"><tspan font-style="italic">MX2</tspan></text>
<text x="450.70" y="197.78" font-size="9.8" textLength="23.10" lengthAdjust="spacingAndGlyphs"><tspan font-style="italic">IFIT3</tspan></text>
<text x="451.50" y="210.66" font-size="9.8" textLength="22.30" lengthAdjust="spacingAndGlyphs"><tspan font-style="italic">IFIH1</tspan></text>
<text x="439.40" y="223.53" font-size="9.8" textLength="34.40" lengthAdjust="spacingAndGlyphs"><tspan font-style="italic">EPCAM</tspan></text>
<polygon points="436.20,127.54 436.69,128.96 438.20,128.99 437.00,129.89 437.43,131.33 436.20,130.48 434.97,131.33 435.40,129.89 434.20,128.99 435.71,128.96" fill="#2e2c2d"/>
<polygon points="436.20,140.41 436.69,141.83 438.20,141.86 437.00,142.76 437.43,144.20 436.20,143.35 434.97,144.20 435.40,142.76 434.20,141.86 435.71,141.83" fill="#2e2c2d"/>
<polygon points="436.20,153.28 436.69,154.70 438.20,154.73 437.00,155.63 437.43,157.07 436.20,156.22 434.97,157.07 435.40,155.63 434.20,154.73 435.71,154.70" fill="#2e2c2d"/>
<polygon points="436.20,166.15 436.69,167.57 438.20,167.60 437.00,168.50 437.43,169.94 436.20,169.09 434.97,169.94 435.40,168.50 434.20,167.60 435.71,167.57" fill="#2e2c2d"/>
<polygon points="436.20,179.02 436.69,180.44 438.20,180.47 437.00,181.37 437.43,182.81 436.20,181.96 434.97,182.81 435.40,181.37 434.20,180.47 435.71,180.44" fill="#2e2c2d"/>
<polygon points="436.20,191.89 436.69,193.31 438.20,193.34 437.00,194.24 437.43,195.68 436.20,194.83 434.97,195.68 435.40,194.24 434.20,193.34 435.71,193.31" fill="#2e2c2d"/>
<polygon points="436.20,204.76 436.69,206.18 438.20,206.21 437.00,207.11 437.43,208.55 436.20,207.70 434.97,208.55 435.40,207.11 434.20,206.21 435.71,206.18" fill="#2e2c2d"/>
<polygon points="440.10,76.20 440.59,77.62 442.10,77.65 440.90,78.56 441.33,80.00 440.10,79.14 438.87,80.00 439.30,78.56 438.10,77.65 439.61,77.62" fill="#2e2c2d"/>
<polygon points="373.40,101.80 373.89,103.22 375.40,103.25 374.20,104.16 374.63,105.60 373.40,104.74 372.17,105.60 372.60,104.16 371.40,103.25 372.91,103.22" fill="#2e2c2d"/>
<text x="488.60" y="16.50" font-size="9.8" textLength="9.20" lengthAdjust="spacingAndGlyphs">SI</text>
<text x="497.70" y="13.20" font-size="6.0" textLength="13.10" lengthAdjust="spacingAndGlyphs" style="stroke-width:0">ORG</text>
<text x="489.70" y="28.60" font-size="9.8" textLength="19.20" lengthAdjust="spacingAndGlyphs">SeV</text>
<text x="537.70" y="16.50" font-size="9.8" textLength="14.10" lengthAdjust="spacingAndGlyphs">Alv</text>
<text x="552.90" y="13.20" font-size="6.0" textLength="13.20" lengthAdjust="spacingAndGlyphs" style="stroke-width:0">ORG</text>
<text x="542.60" y="28.60" font-size="9.8" textLength="18.80" lengthAdjust="spacingAndGlyphs">SeV</text>
<text x="583.90" y="17.00" font-size="9.8" textLength="14.90" lengthAdjust="spacingAndGlyphs">Alv</text>
<text x="599.20" y="13.70" font-size="6.0" textLength="13.00" lengthAdjust="spacingAndGlyphs" style="stroke-width:0">ORG</text>
<text x="572.60" y="28.80" font-size="9.8" textLength="50.20" lengthAdjust="spacingAndGlyphs">MERS-CoV</text>
<rect x="622.30" y="34.10" width="14.10" height="44.80" fill="url(#gb)" stroke="#4d4d4f" stroke-width="0.7"/>
<line x1="622.30" y1="43.30" x2="623.80" y2="43.30" stroke="#5a5b5e" stroke-width="0.6"/>
<line x1="634.90" y1="43.30" x2="636.40" y2="43.30" stroke="#5a5b5e" stroke-width="0.6"/>
<line x1="622.30" y1="55.50" x2="623.80" y2="55.50" stroke="#5a5b5e" stroke-width="0.6"/>
<line x1="634.90" y1="55.50" x2="636.40" y2="55.50" stroke="#5a5b5e" stroke-width="0.6"/>
<line x1="622.30" y1="67.30" x2="623.80" y2="67.30" stroke="#5a5b5e" stroke-width="0.6"/>
<line x1="634.90" y1="67.30" x2="636.40" y2="67.30" stroke="#5a5b5e" stroke-width="0.6"/>
<text x="640.60" y="46.80" font-size="9.6">3</text>
<text x="640.60" y="58.90" font-size="9.6">2</text>
<text x="640.60" y="70.70" font-size="9.6">1</text>
<text x="640.60" y="81.40" font-size="9.6">0</text>
<rect x="622.50" y="124.10" width="13.90" height="45.40" fill="url(#gc)" stroke="#4d4d4f" stroke-width="0.7"/>
<line x1="622.50" y1="131.30" x2="624.00" y2="131.30" stroke="#5a5b5e" stroke-width="0.6"/>
<line x1="634.90" y1="131.30" x2="636.40" y2="131.30" stroke="#5a5b5e" stroke-width="0.6"/>
<line x1="622.50" y1="150.60" x2="624.00" y2="150.60" stroke="#5a5b5e" stroke-width="0.6"/>
<line x1="634.90" y1="150.60" x2="636.40" y2="150.60" stroke="#5a5b5e" stroke-width="0.6"/>
<text x="640.60" y="135.10" font-size="9.6">10</text>
<text x="640.60" y="153.80" font-size="9.6">5</text>
<text x="640.60" y="172.50" font-size="9.6">0</text>
<text x="622.90" y="94.90" font-size="9.5" textLength="13.90" lengthAdjust="spacingAndGlyphs">log</text>
<text x="637.70" y="98.40" font-size="5.6">2</text>
<text x="641.50" y="94.90" font-size="9.5" textLength="44.30" lengthAdjust="spacingAndGlyphs">(CPM + 1)</text>
<text x="622.90" y="185.90" font-size="9.5" textLength="13.90" lengthAdjust="spacingAndGlyphs">log</text>
<text x="637.70" y="189.40" font-size="5.6">2</text>
<text x="641.50" y="185.90" font-size="9.5" textLength="44.30" lengthAdjust="spacingAndGlyphs">(CPM + 1)</text>
<text x="0.30" y="262.00" font-size="14.3" font-weight="bold" style="stroke-width:0.5px">c</text>
<line x1="60.70" y1="269.30" x2="60.70" y2="400.50" stroke="#6d6e71" stroke-width="0.8"/>
<line x1="60.30" y1="400.50" x2="318.00" y2="400.50" stroke="#6d6e71" stroke-width="0.8"/>
<line x1="55.30" y1="269.30" x2="60.70" y2="269.30" stroke="#6d6e71" stroke-width="0.8"/>
<text x="28.40" y="272.50" font-size="8.8" textLength="22.70" lengthAdjust="spacingAndGlyphs">1,000</text>
<line x1="55.30" y1="312.90" x2="60.70" y2="312.90" stroke="#6d6e71" stroke-width="0.8"/>
<text x="35.60" y="316.10" font-size="8.8" textLength="15.50" lengthAdjust="spacingAndGlyphs">100</text>
<line x1="55.30" y1="356.50" x2="60.70" y2="356.50" stroke="#6d6e71" stroke-width="0.8"/>
<text x="41.70" y="359.70" font-size="8.8" textLength="9.40" lengthAdjust="spacingAndGlyphs">10</text>
<line x1="55.30" y1="400.10" x2="60.70" y2="400.10" stroke="#6d6e71" stroke-width="0.8"/>
<text x="47.70" y="403.30" font-size="8.8" textLength="3.40" lengthAdjust="spacingAndGlyphs">1</text>
<text transform="translate(8.8,375.1) rotate(-90)" font-size="10.3" textLength="82.2" lengthAdjust="spacingAndGlyphs">Normalized gene</text>
<text transform="translate(20.5,382.2) rotate(-90)" font-size="10.3" textLength="95" lengthAdjust="spacingAndGlyphs">expression (CPM + 1)</text>
<rect x="65.65" y="328.50" width="8.30" height="72.00" fill="#ffffff" stroke="#77787b" stroke-width="0.7"/>
<rect x="79.70" y="329.00" width="8.30" height="71.50" fill="#e53935" stroke="#b8282a" stroke-width="0.7"/>
<rect x="93.75" y="368.10" width="8.30" height="32.40" fill="#e2e3e5" stroke="#5d5e61" stroke-width="0.7"/>
<rect x="107.80" y="369.10" width="8.30" height="31.40" fill="#9bb0d8" stroke="#5f6f94" stroke-width="0.7"/>
<rect x="131.20" y="323.20" width="8.30" height="77.30" fill="#ffffff" stroke="#77787b" stroke-width="0.7"/>
<rect x="145.25" y="287.60" width="8.30" height="112.90" fill="#e53935" stroke="#b8282a" stroke-width="0.7"/>
<rect x="159.30" y="336.30" width="8.30" height="64.20" fill="#e2e3e5" stroke="#5d5e61" stroke-width="0.7"/>
<rect x="173.35" y="286.10" width="8.30" height="114.40" fill="#9bb0d8" stroke="#5f6f94" stroke-width="0.7"/>
<rect x="196.75" y="325.00" width="8.30" height="75.50" fill="#ffffff" stroke="#77787b" stroke-width="0.7"/>
<rect x="210.80" y="286.00" width="8.30" height="114.50" fill="#e53935" stroke="#b8282a" stroke-width="0.7"/>
<rect x="224.85" y="346.30" width="8.30" height="54.20" fill="#e2e3e5" stroke="#5d5e61" stroke-width="0.7"/>
<rect x="238.90" y="307.60" width="8.30" height="92.90" fill="#9bb0d8" stroke="#5f6f94" stroke-width="0.7"/>
<rect x="262.30" y="341.10" width="8.30" height="59.40" fill="#ffffff" stroke="#77787b" stroke-width="0.7"/>
<rect x="276.35" y="281.70" width="8.30" height="118.80" fill="#e53935" stroke="#b8282a" stroke-width="0.7"/>
<rect x="290.40" y="335.80" width="8.30" height="64.70" fill="#e2e3e5" stroke="#5d5e61" stroke-width="0.7"/>
<rect x="304.45" y="295.50" width="8.30" height="105.00" fill="#9bb0d8" stroke="#5f6f94" stroke-width="0.7"/>
<circle cx="66.9" cy="328.8" r="2.65" fill="#231f20"/>
<circle cx="69.6" cy="326.7" r="2.65" fill="#231f20"/>
<circle cx="72.3" cy="328.8" r="2.65" fill="#231f20"/>
<circle cx="81.5" cy="323.4" r="2.65" fill="#231f20"/>
<circle cx="85.7" cy="327.9" r="2.65" fill="#231f20"/>
<circle cx="81.2" cy="330.9" r="2.65" fill="#231f20"/>
<circle cx="95.7" cy="363" r="2.65" fill="#231f20"/>
<circle cx="99.7" cy="367.3" r="2.65" fill="#231f20"/>
<circle cx="97.5" cy="376.4" r="2.65" fill="#231f20"/>
<circle cx="111.7" cy="363.8" r="2.65" fill="#231f20"/>
<circle cx="114" cy="369.9" r="2.65" fill="#231f20"/>
<circle cx="109.7" cy="374.4" r="2.65" fill="#231f20"/>
<circle cx="135.5" cy="317.4" r="2.65" fill="#231f20"/>
<circle cx="133.1" cy="322" r="2.65" fill="#231f20"/>
<circle cx="137.6" cy="322" r="2.65" fill="#231f20"/>
<circle cx="146.8" cy="285.9" r="2.65" fill="#231f20"/>
<circle cx="149.3" cy="283.4" r="2.65" fill="#231f20"/>
<circle cx="151.8" cy="285.5" r="2.65" fill="#231f20"/>
<circle cx="163.3" cy="325" r="2.65" fill="#231f20"/>
<circle cx="163.3" cy="340.1" r="2.65" fill="#231f20"/>
<circle cx="163.3" cy="352.8" r="2.65" fill="#231f20"/>
<circle cx="175.1" cy="284.3" r="2.65" fill="#231f20"/>
<circle cx="177.6" cy="281.8" r="2.65" fill="#231f20"/>
<circle cx="180.1" cy="284.3" r="2.65" fill="#231f20"/>
<circle cx="198.3" cy="324.8" r="2.65" fill="#231f20"/>
<circle cx="200.7" cy="320.8" r="2.65" fill="#231f20"/>
<circle cx="203.5" cy="321.2" r="2.65" fill="#231f20"/>
<circle cx="212.8" cy="285.7" r="2.65" fill="#231f20"/>
<circle cx="215" cy="285.2" r="2.65" fill="#231f20"/>
<circle cx="217.2" cy="285.7" r="2.65" fill="#231f20"/>
<circle cx="229" cy="335.2" r="2.65" fill="#231f20"/>
<circle cx="229" cy="351.2" r="2.65" fill="#231f20"/>
<circle cx="229" cy="361.1" r="2.65" fill="#231f20"/>
<circle cx="240.8" cy="305.1" r="2.65" fill="#231f20"/>
<circle cx="243.3" cy="301.5" r="2.65" fill="#231f20"/>
<circle cx="245.4" cy="305.1" r="2.65" fill="#231f20"/>
<circle cx="264.3" cy="337.7" r="2.65" fill="#231f20"/>
<circle cx="268.7" cy="340.3" r="2.65" fill="#231f20"/>
<circle cx="266.3" cy="346.6" r="2.65" fill="#231f20"/>
<circle cx="278.3" cy="280.5" r="2.65" fill="#231f20"/>
<circle cx="280.5" cy="276.6" r="2.65" fill="#231f20"/>
<circle cx="282.5" cy="280.5" r="2.65" fill="#231f20"/>
<circle cx="294.6" cy="328.1" r="2.65" fill="#231f20"/>
<circle cx="292.4" cy="334.2" r="2.65" fill="#231f20"/>
<circle cx="297.1" cy="333.6" r="2.65" fill="#231f20"/>
<circle cx="306.5" cy="294.3" r="2.65" fill="#231f20"/>
<circle cx="308.8" cy="290.7" r="2.65" fill="#231f20"/>
<circle cx="311.2" cy="294.3" r="2.65" fill="#231f20"/>
<line x1="90.40" y1="400.50" x2="90.40" y2="405.30" stroke="#6d6e71" stroke-width="0.8"/>
<text x="79.60" y="418.00" font-size="10" textLength="22.10" lengthAdjust="spacingAndGlyphs"><tspan font-style="italic">IFNE</tspan></text>
<line x1="156.10" y1="400.50" x2="156.10" y2="405.30" stroke="#6d6e71" stroke-width="0.8"/>
<text x="146.00" y="418.00" font-size="10" textLength="20.90" lengthAdjust="spacingAndGlyphs"><tspan font-style="italic">IRF7</tspan></text>
<line x1="221.80" y1="400.50" x2="221.80" y2="405.30" stroke="#6d6e71" stroke-width="0.8"/>
<text x="212.20" y="418.00" font-size="10" textLength="19.10" lengthAdjust="spacingAndGlyphs"><tspan font-style="italic">MX2</tspan></text>
<line x1="287.50" y1="400.50" x2="287.50" y2="405.30" stroke="#6d6e71" stroke-width="0.8"/>
<text x="276.20" y="418.00" font-size="10" textLength="23.20" lengthAdjust="spacingAndGlyphs"><tspan font-style="italic">RTP4</tspan></text>
<line x1="71.20" y1="313.80" x2="83.50" y2="313.80" stroke="#939598" stroke-width="1.0"/>
<line x1="97.20" y1="342.80" x2="109.80" y2="342.80" stroke="#939598" stroke-width="1.0"/>
<line x1="136.10" y1="273.50" x2="148.90" y2="273.50" stroke="#939598" stroke-width="1.0"/>
<line x1="162.10" y1="272.30" x2="177.80" y2="272.30" stroke="#939598" stroke-width="1.0"/>
<line x1="200.20" y1="274.90" x2="214.50" y2="274.90" stroke="#939598" stroke-width="1.0"/>
<line x1="228.80" y1="296.20" x2="242.80" y2="296.20" stroke="#939598" stroke-width="1.0"/>
<line x1="267.00" y1="269.10" x2="280.70" y2="269.10" stroke="#939598" stroke-width="1.0"/>
<line x1="293.90" y1="282.10" x2="309.10" y2="282.10" stroke="#939598" stroke-width="1.0"/>
<text x="70.60" y="311.20" font-size="10" textLength="13.20" lengthAdjust="spacingAndGlyphs">NS</text>
<text x="98.60" y="339.40" font-size="10" textLength="13.30" lengthAdjust="spacingAndGlyphs">NS</text>
<polygon points="134.90,265.45 135.59,267.05 137.33,267.21 136.02,268.36 136.40,270.06 134.90,269.17 133.40,270.06 133.78,268.36 132.47,267.21 134.21,267.05" fill="#2e2c2d"/>
<polygon points="140.60,265.45 141.29,267.05 143.03,267.21 141.72,268.36 142.10,270.06 140.60,269.17 139.10,270.06 139.48,268.36 138.17,267.21 139.91,267.05" fill="#2e2c2d"/>
<polygon points="146.30,265.45 146.99,267.05 148.73,267.21 147.42,268.36 147.80,270.06 146.30,269.17 144.80,270.06 145.18,268.36 143.87,267.21 145.61,267.05" fill="#2e2c2d"/>
<polygon points="152.00,265.45 152.69,267.05 154.43,267.21 153.12,268.36 153.50,270.06 152.00,269.17 150.50,270.06 150.88,268.36 149.57,267.21 151.31,267.05" fill="#2e2c2d"/>
<polygon points="162.10,263.65 162.79,265.25 164.53,265.41 163.22,266.56 163.60,268.26 162.10,267.37 160.60,268.26 160.98,266.56 159.67,265.41 161.41,265.25" fill="#2e2c2d"/>
<polygon points="167.70,263.65 168.39,265.25 170.13,265.41 168.82,266.56 169.20,268.26 167.70,267.37 166.20,268.26 166.58,266.56 165.27,265.41 167.01,265.25" fill="#2e2c2d"/>
<polygon points="173.30,263.65 173.99,265.25 175.73,265.41 174.42,266.56 174.80,268.26 173.30,267.37 171.80,268.26 172.18,266.56 170.87,265.41 172.61,265.25" fill="#2e2c2d"/>
<polygon points="178.90,263.65 179.59,265.25 181.33,265.41 180.02,266.56 180.40,268.26 178.90,267.37 177.40,268.26 177.78,266.56 176.47,265.41 178.21,265.25" fill="#2e2c2d"/>
<polygon points="198.30,266.55 198.99,268.15 200.73,268.31 199.42,269.46 199.80,271.16 198.30,270.27 196.80,271.16 197.18,269.46 195.87,268.31 197.61,268.15" fill="#2e2c2d"/>
<polygon points="204.23,266.55 204.92,268.15 206.66,268.31 205.35,269.46 205.73,271.16 204.23,270.27 202.73,271.16 203.12,269.46 201.81,268.31 203.54,268.15" fill="#2e2c2d"/>
<polygon points="210.17,266.55 210.86,268.15 212.59,268.31 211.28,269.46 211.67,271.16 210.17,270.27 208.67,271.16 209.05,269.46 207.74,268.31 209.48,268.15" fill="#2e2c2d"/>
<polygon points="216.10,266.55 216.79,268.15 218.53,268.31 217.22,269.46 217.60,271.16 216.10,270.27 214.60,271.16 214.98,269.46 213.67,268.31 215.41,268.15" fill="#2e2c2d"/>
<polygon points="229.20,287.85 229.89,289.45 231.63,289.61 230.32,290.76 230.70,292.46 229.20,291.57 227.70,292.46 228.08,290.76 226.77,289.61 228.51,289.45" fill="#2e2c2d"/>
<polygon points="235.20,287.85 235.89,289.45 237.63,289.61 236.32,290.76 236.70,292.46 235.20,291.57 233.70,292.46 234.08,290.76 232.77,289.61 234.51,289.45" fill="#2e2c2d"/>
<polygon points="241.20,287.85 241.89,289.45 243.63,289.61 242.32,290.76 242.70,292.46 241.20,291.57 239.70,292.46 240.08,290.76 238.77,289.61 240.51,289.45" fill="#2e2c2d"/>
<polygon points="266.70,262.55 267.39,264.15 269.13,264.31 267.82,265.46 268.20,267.16 266.70,266.27 265.20,267.16 265.58,265.46 264.27,264.31 266.01,264.15" fill="#2e2c2d"/>
<polygon points="272.50,262.55 273.19,264.15 274.93,264.31 273.62,265.46 274.00,267.16 272.50,266.27 271.00,267.16 271.38,265.46 270.07,264.31 271.81,264.15" fill="#2e2c2d"/>
<polygon points="278.30,262.55 278.99,264.15 280.73,264.31 279.42,265.46 279.80,267.16 278.30,266.27 276.80,267.16 277.18,265.46 275.87,264.31 277.61,264.15" fill="#2e2c2d"/>
<polygon points="294.20,273.65 294.89,275.25 296.63,275.41 295.32,276.56 295.70,278.26 294.20,277.37 292.70,278.26 293.08,276.56 291.77,275.41 293.51,275.25" fill="#2e2c2d"/>
<polygon points="299.90,273.65 300.59,275.25 302.33,275.41 301.02,276.56 301.40,278.26 299.90,277.37 298.40,278.26 298.78,276.56 297.47,275.41 299.21,275.25" fill="#2e2c2d"/>
<polygon points="305.60,273.65 306.29,275.25 308.03,275.41 306.72,276.56 307.10,278.26 305.60,277.37 304.10,278.26 304.48,276.56 303.17,275.41 304.91,275.25" fill="#2e2c2d"/>
<rect x="325.30" y="265.30" width="9.50" height="9.30" fill="#ffffff" stroke="#8c8c8c" stroke-width="0.8"/>
<text x="339.60" y="272.80" font-size="9.9" textLength="8.90" lengthAdjust="spacingAndGlyphs">SI</text>
<text x="348.90" y="269.70" font-size="6.2" textLength="12.90" lengthAdjust="spacingAndGlyphs" style="stroke-width:0.1px">ORG</text>
<text x="363.50" y="272.80" font-size="9.9" textLength="68.80" lengthAdjust="spacingAndGlyphs">mock-infected</text>
<rect x="325.30" y="282.00" width="9.50" height="9.30" fill="#e53935" stroke="#b02a2a" stroke-width="0.8"/>
<text x="339.60" y="289.20" font-size="9.9" textLength="8.90" lengthAdjust="spacingAndGlyphs">SI</text>
<text x="348.90" y="286.10" font-size="6.2" textLength="12.90" lengthAdjust="spacingAndGlyphs" style="stroke-width:0.1px">ORG</text>
<text x="363.50" y="289.20" font-size="9.9" textLength="18.70" lengthAdjust="spacingAndGlyphs">SeV</text>
<rect x="325.30" y="298.40" width="9.50" height="9.30" fill="#e2e3e5" stroke="#8c8c8c" stroke-width="0.8"/>
<text x="339.80" y="306.00" font-size="9.9" textLength="14.50" lengthAdjust="spacingAndGlyphs">Alv</text>
<text x="354.70" y="302.90" font-size="6.2" textLength="13.30" lengthAdjust="spacingAndGlyphs" style="stroke-width:0.1px">ORG</text>
<text x="369.60" y="306.00" font-size="9.9" textLength="68.40" lengthAdjust="spacingAndGlyphs">mock-infected</text>
<rect x="325.30" y="315.00" width="9.50" height="9.30" fill="#9bb0d8" stroke="#7d8aa3" stroke-width="0.8"/>
<text x="339.80" y="322.80" font-size="9.9" textLength="14.50" lengthAdjust="spacingAndGlyphs">Alv</text>
<text x="354.70" y="319.70" font-size="6.2" textLength="13.30" lengthAdjust="spacingAndGlyphs" style="stroke-width:0.1px">ORG</text>
<text x="369.60" y="322.80" font-size="9.9" textLength="18.10" lengthAdjust="spacingAndGlyphs">SeV</text>
</svg>
</body></html>
